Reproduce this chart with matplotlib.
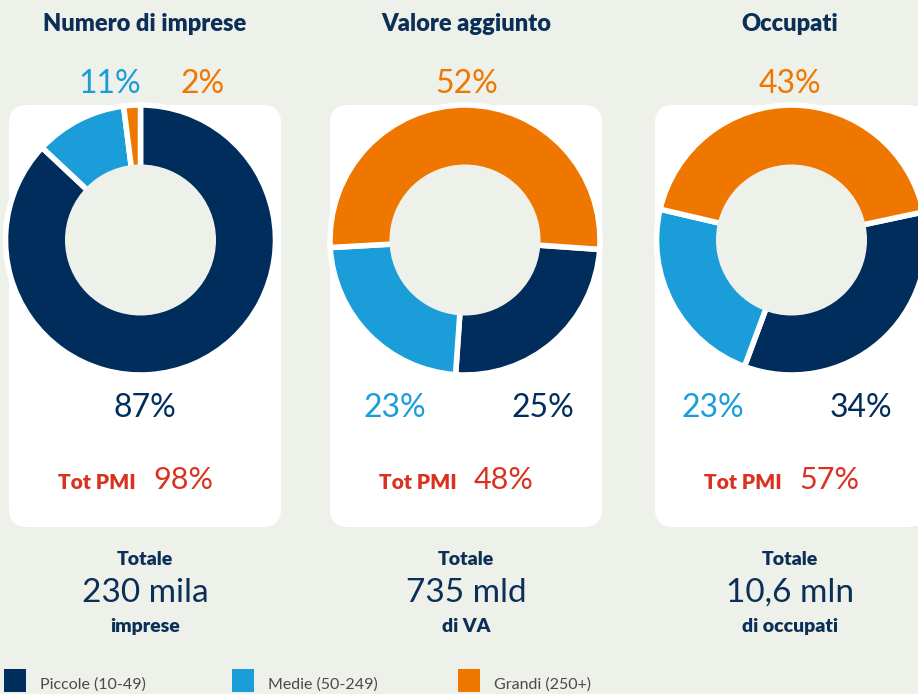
import matplotlib.pyplot as plt
from matplotlib.patches import FancyBboxPatch, Circle, Rectangle

# dati
categorie = ['Piccole (10-49)', 'Medie (50-249)', 'Grandi (250+)']
titoli = ['Numero di imprese', 'Valore aggiunto', 'Occupati']
imprese = [87, 11, 2]
valore_aggiunto = [25, 23, 52]
occupati = [34, 23, 43]
tot_pmi = [98, 48, 57]
totali = ['230 mila', '735 mld', '10,6 mln']
totali_sub = ['imprese', 'di VA', 'di occupati']

colori = ['#002d5b', '#1b9dd9', '#ef7700']
rosso = '#d9321f'
blu_testo = '#0b2f57'
sfondo = '#eef0ea'

W, H = 918, 694
plt.rcParams['font.family'] = ['Lato', 'DejaVu Sans']

fig = plt.figure(figsize=(W / 100, H / 100), dpi=100)
fig.patch.set_facecolor(sfondo)
ax = fig.add_axes([0, 0, 1, 1])
ax.set_facecolor(sfondo)

def Y(y):
    return H - y

# pannelli bianchi
for x0 in [9, 330, 655]:
    ax.add_patch(FancyBboxPatch((x0, Y(527)), 272, 422,
                                boxstyle='round,pad=0,rounding_size=18',
                                fc='white', ec='none', zorder=1))

serie = [imprese, valore_aggiunto, occupati]
centri = [140.5, 465, 791.5]
start = [90, -4, 12]
r_out, r_in = 135, 72

# posizione etichette: (x, y) per piccole, medie, grandi
pos_label = [
    [(145, 417), (110, 93), (203, 93)],
    [(543, 417), (395, 417), (467, 93)],
    [(861, 417), (713, 417), (790, 93)],
]
centri_testo = [145, 466, 790]
pmi_x = [(136, 153), (457, 474), (782, 799)]

for i, vals in enumerate(serie):
    cx = centri[i]
    ax.pie(vals, colors=colori, startangle=start[i], counterclock=False,
           radius=r_out, center=(cx, Y(240)), frame=True,
           wedgeprops=dict(width=r_out - r_in, edgecolor='white', linewidth=4))
    ax.add_patch(Circle((cx, Y(240)), 75.5, fc=sfondo, ec='none', zorder=5))

    ax.text(centri_testo[i], Y(31), titoli[i], ha='center', va='baseline',
            fontsize=17, fontweight='heavy', color=blu_testo)
    for j, v in enumerate(vals):
        px, py = pos_label[i][j]
        ax.text(px, Y(py), f'{v}%', ha='center', va='baseline',
                fontsize=23, color=colori[j])

    ax.text(pmi_x[i][0], Y(489), 'Tot PMI', ha='right', va='baseline',
            fontsize=15, fontweight='heavy', color=rosso)
    ax.text(pmi_x[i][1], Y(489), f'{tot_pmi[i]}%', ha='left', va='baseline',
            fontsize=22, color=rosso)

    ax.text(centri_testo[i], Y(565), 'Totale', ha='center', va='baseline',
            fontsize=14, fontweight='heavy', color=blu_testo)
    ax.text(centri_testo[i], Y(602), totali[i], ha='center', va='baseline',
            fontsize=24, color=blu_testo)
    ax.text(centri_testo[i], Y(632), totali_sub[i], ha='center', va='baseline',
            fontsize=14, fontweight='heavy', color=blu_testo)

# legenda
for k, (lx, nome) in enumerate(zip([4, 232, 458], categorie)):
    ax.add_patch(Rectangle((lx, Y(692)), 22, 23, fc=colori[k], ec='none'))
    ax.text(lx + 36, Y(689), nome, ha='left', va='baseline',
            fontsize=11.5, color='#4a4a4a')

ax.set_xlim(0, W)
ax.set_ylim(0, H)
ax.set_aspect('equal')
ax.axis('off')

fig.savefig('out.png', dpi=100, facecolor=sfondo)
